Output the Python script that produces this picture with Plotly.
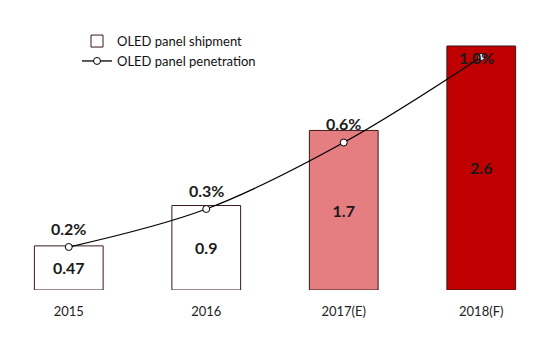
import plotly.graph_objects as go

years = ["2015", "2016", "2017(E)", "2018(F)"]
shipment = [0.47, 0.9, 1.7, 2.6]
shipment_labels = ["0.47", "0.9", "1.7", "2.6"]
penetration = [0.2, 0.36, 0.64, 1.0]  # plotted positions
penetration_labels = ["0.2%", "0.3%", "0.6%", "1.0%"]
bar_colors = ["#FFFFFF", "#FFFFFF", "#E47E80", "#C00000"]

FONT = "Lato"

fig = go.Figure()
fig.add_trace(go.Bar(
    x=years, y=shipment, name="OLED panel shipment",
    marker=dict(color=bar_colors, line=dict(color="#3a1a1a", width=1)),
    width=0.5,
    text=shipment_labels, textposition="inside", insidetextanchor="middle",
    textfont=dict(family=FONT, size=16, color="#1a1a1a", weight="bold"),
    textangle=0,
))
fig.add_trace(go.Scatter(
    x=years, y=penetration, name="OLED panel penetration", yaxis="y2",
    mode="lines+markers",
    line=dict(color="black", width=1.3, shape="spline"),
    marker=dict(symbol="circle", size=7, color="white", line=dict(color="black", width=1)),
))

shifts = [(0, 19), (0, 19), (0, 19), (-5, 0)]
for i, (yv, lab, (dx, dy)) in enumerate(zip(penetration, penetration_labels, shifts)):
    fig.add_annotation(x=i, y=yv, xref="x", yref="y2", text=lab, showarrow=False,
                       xshift=dx, yshift=dy,
                       font=dict(family=FONT, size=16, color="#1a1a1a", weight="bold"))

fig.update_layout(
    width=550, height=338,
    margin=dict(l=0, r=0, t=0, b=48),
    plot_bgcolor="white", paper_bgcolor="white",
    font=dict(family=FONT, color="#1a1a1a"),
    xaxis=dict(type="category", showgrid=False, showline=False, zeroline=False, ticks="",
               tickfont=dict(size=13, color="#222"), range=[-0.5, 3.5],
               ticklabelstandoff=12),
    yaxis=dict(visible=False, range=[0, 3.09]),
    yaxis2=dict(visible=False, overlaying="y", range=[0.019, 1.24]),
    legend=dict(x=0.14, y=0.91, xanchor="left", yanchor="top",
                font=dict(size=13, color="#111"), bgcolor="rgba(0,0,0,0)",
                tracegroupgap=0, itemwidth=30),
    showlegend=True,
)

fig.write_html("out.html")
